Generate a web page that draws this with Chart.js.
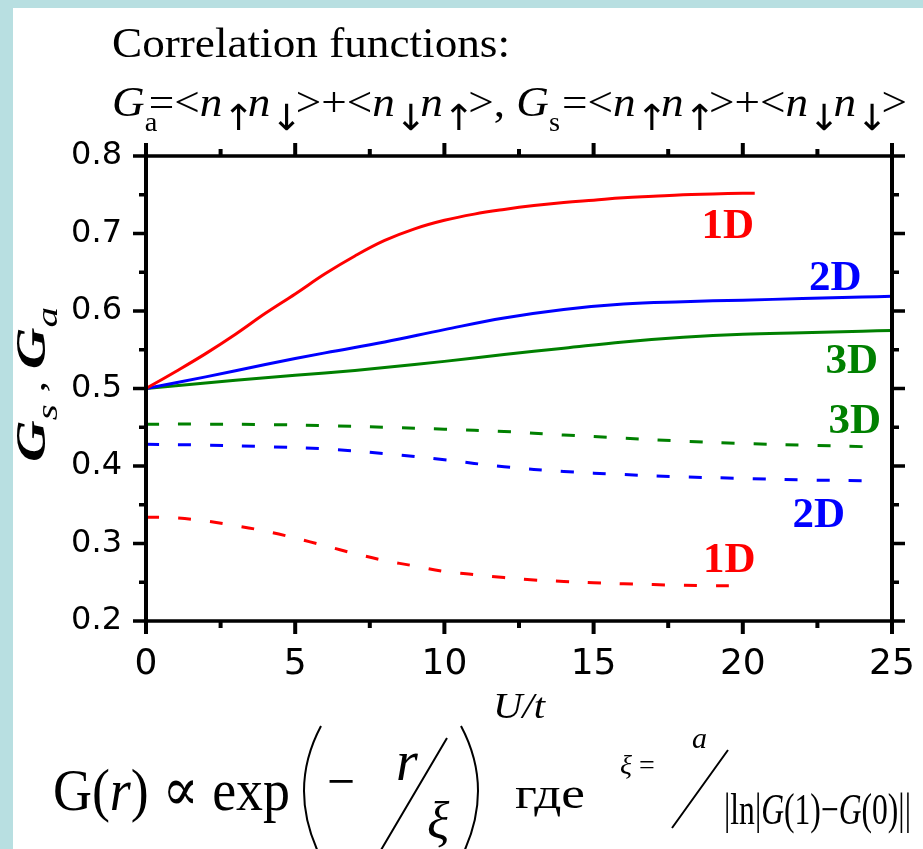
<!DOCTYPE html>
<html>
<head>
<meta charset="utf-8">
<script src="https://cdn.jsdelivr.net/npm/chart.js@4.4.1/dist/chart.umd.min.js"></script>
<style>
  html, body { margin: 0; padding: 0; }
  body { width: 923px; height: 849px; background: #b8dfe1; position: relative; overflow: hidden; }
  #panel { position: absolute; left: 13px; top: 8px; right: 0; bottom: 0; background: #fff; }
  #chart { position: absolute; left: 0; top: 0; }
</style>
</head>
<body>
<div id="panel"></div>
<canvas id="chart" width="923" height="849"></canvas>
<script>
// --- data: U/t grids and correlation functions ---
const U_A1 = [0, 1, 2, 3, 4, 5, 6, 7, 8, 9, 10, 11, 12, 13, 14, 15, 16, 17, 18, 19, 20, 20.4];
const GA_1D = [0.500, 0.522, 0.545, 0.570, 0.597, 0.622, 0.648, 0.671, 0.691, 0.706, 0.717, 0.725,
               0.731, 0.736, 0.740, 0.743, 0.746, 0.748, 0.750, 0.751, 0.752, 0.752];

const U_A23 = [0, 2, 4, 6, 8, 10, 12, 14, 16, 18, 20, 22, 24, 25];
const GA_2D = [0.500, 0.515, 0.531, 0.546, 0.560, 0.576, 0.591, 0.602, 0.609, 0.612, 0.614, 0.616, 0.618, 0.619];
const GA_3D = [0.500, 0.507, 0.514, 0.520, 0.527, 0.535, 0.544, 0.552, 0.560, 0.566, 0.570, 0.572, 0.574, 0.575];

const U_S1 = [0, 1, 2, 3, 4, 5, 6, 7, 8, 9, 10, 11, 12, 13, 14, 15, 16, 17, 18, 19, 20];
const GS_1D = [0.334, 0.333, 0.329, 0.323, 0.316, 0.307, 0.297, 0.287, 0.278, 0.271, 0.264, 0.260,
               0.256, 0.253, 0.251, 0.2495, 0.248, 0.247, 0.246, 0.2455, 0.2455];

const U_S23 = [0, 2, 4, 6, 8, 10, 12, 14, 16, 18, 20, 22, 24, 24.4];
const GS_2D = [0.428, 0.427, 0.425, 0.422, 0.416, 0.408, 0.399, 0.393, 0.389, 0.386, 0.384, 0.382, 0.381, 0.3805];
const GS_3D = [0.454, 0.454, 0.4535, 0.452, 0.450, 0.4475, 0.4445, 0.440, 0.436, 0.432, 0.429, 0.427, 0.425, 0.425];

const X_TICKS = [0, 5, 10, 15, 20, 25];
const Y_TICKS = [0.2, 0.3, 0.4, 0.5, 0.6, 0.7, 0.8];

const RED = '#ff0000', BLUE = '#0000ff', GREEN = '#008000';
const SERIF = '"Liberation Serif", "DejaVu Serif", serif';

// curve labels, anchored in data units (centre x, baseline y)
const curveLabels = [
  { text: '1D', color: RED,   x: 19.5,  y: 0.694 },
  { text: '2D', color: BLUE,  x: 23.1,  y: 0.627 },
  { text: '3D', color: GREEN, x: 23.65, y: 0.520 },
  { text: '3D', color: GREEN, x: 23.75, y: 0.4425 },
  { text: '2D', color: BLUE,  x: 22.55, y: 0.321 },
  { text: '1D', color: RED,   x: 19.55, y: 0.263 }
];

const pts = (xs, ys) => xs.map((x, i) => ({ x, y: ys[i] }));
const DASH = [13, 19];

function series(label, xs, ys, color, dashed) {
  return {
    label,
    data: pts(xs, ys),
    borderColor: color,
    borderWidth: 3,
    borderDash: dashed ? DASH : [],
    pointRadius: 0,
    tension: 0.4,
    fill: false
  };
}

// draw a row of text pieces left to right, optionally squeezed/stretched to a width
function drawRuns(ctx, x, y, parts, width) {
  let total = 0;
  const w = parts.map(p => {
    ctx.font = p.f;
    const v = ctx.measureText(p.t).width + (p.gap || 0);
    total += v;
    return v;
  });
  const sx = width ? width / total : 1;
  ctx.save();
  ctx.translate(x, y);
  ctx.scale(sx, 1);
  let cx = 0;
  parts.forEach((p, i) => {
    ctx.font = p.f;
    ctx.fillText(p.t, cx, p.dy || 0);
    cx += w[i];
  });
  ctx.restore();
}

// box with outward major/minor ticks on all four sides
const frameTicks = {
  id: 'frameTicks',
  afterDatasetsDraw(chart) {
    const { ctx, chartArea: a, scales: { x, y } } = chart;
    const xs = x.ticks.map(t => t.value);
    const ys = y.ticks.map(t => t.value);
    const mids = v => v.slice(1).map((t, i) => (t + v[i]) / 2);
    const MAJOR = 13, MINOR = 7;
    ctx.save();
    ctx.strokeStyle = '#000';
    ctx.lineCap = 'butt';

    // horizontal strokes: top/bottom lines and y ticks
    ctx.lineWidth = 3.5;
    ctx.beginPath();
    ctx.moveTo(a.left - 2, a.top); ctx.lineTo(a.right + 2, a.top);
    ctx.moveTo(a.left - 2, a.bottom); ctx.lineTo(a.right + 2, a.bottom);
    const yTick = (v, len) => {
      const py = y.getPixelForValue(v);
      ctx.moveTo(a.left, py); ctx.lineTo(a.left - len, py);
      ctx.moveTo(a.right, py); ctx.lineTo(a.right + len, py);
    };
    ys.forEach(v => yTick(v, MAJOR));
    mids(ys).forEach(v => yTick(v, MINOR));
    ctx.stroke();

    // vertical strokes: left/right lines and x ticks
    ctx.lineWidth = 4;
    ctx.beginPath();
    ctx.moveTo(a.left, a.top - 2); ctx.lineTo(a.left, a.bottom + 2);
    ctx.moveTo(a.right, a.top - 2); ctx.lineTo(a.right, a.bottom + 2);
    const xTick = (v, len) => {
      const px = x.getPixelForValue(v);
      ctx.moveTo(px, a.bottom); ctx.lineTo(px, a.bottom + len);
      ctx.moveTo(px, a.top); ctx.lineTo(px, a.top - len);
    };
    xs.forEach(v => xTick(v, MAJOR));
    mids(xs).forEach(v => xTick(v, MINOR));
    ctx.stroke();
    ctx.restore();
  }
};

const textLayer = {
  id: 'textLayer',
  afterDraw(chart) {
    const { ctx, scales: { x, y } } = chart;
    ctx.save();
    ctx.textBaseline = 'alphabetic';

    // curve labels
    ctx.font = `bold 43px ${SERIF}`;
    ctx.textAlign = 'center';
    curveLabels.forEach(l => {
      ctx.fillStyle = l.color;
      ctx.fillText(l.text, x.getPixelForValue(l.x), y.getPixelForValue(l.y));
    });
    ctx.textAlign = 'left';
    ctx.fillStyle = '#000';

    const it = s => `italic ${s}px ${SERIF}`;
    const rm = s => `${s}px ${SERIF}`;
    const ARR = '36px "DejaVu Sans"';

    // heading
    drawRuns(ctx, 112, 57, [{ t: 'Correlation functions:', f: rm(43) }], 398);

    const n = { t: 'n', f: it(43) };
    const up = { t: '↑', f: ARR, dy: 14, gap: -6 };
    const dn = { t: '↓', f: ARR, dy: 14, gap: -6 };
    drawRuns(ctx, 112, 116, [
      { t: 'G', f: it(43) }, { t: 'a', f: rm(27), dy: 15, gap: -8 },
      { t: '=<', f: rm(43) }, n, up, n, dn, { t: '>+<', f: rm(43) }, n, dn, n, up,
      { t: '>, ', f: rm(43) },
      { t: 'G', f: it(43) }, { t: 's', f: rm(27), dy: 15, gap: 2 },
      { t: '=<', f: rm(43) }, n, up, n, up, { t: '>+<', f: rm(43) }, n, dn, n, dn,
      { t: '>', f: rm(43) }
    ], 795);

    // y-axis title, rotated
    ctx.save();
    ctx.translate(45, 462);
    ctx.rotate(-Math.PI / 2);
    drawRuns(ctx, 0, 0, [
      { t: 'G', f: `bold italic 42px ${SERIF}` }, { t: 's', f: it(30), dy: 12 },
      { t: ' , ', f: rm(34) },
      { t: 'G', f: `bold italic 42px ${SERIF}` }, { t: 'a', f: it(30), dy: 12 }
    ], 155);
    ctx.restore();

    // x-axis title
    drawRuns(ctx, 493, 718, [{ t: 'U/t', f: it(36) }], 52);

    // G(r) ∝ exp(−r/ξ)
    drawRuns(ctx, 53, 810, [
      { t: 'G(', f: rm(60) }, { t: 'r', f: it(60) }, { t: ') ∝ exp', f: rm(60) }
    ], 237);

    ctx.lineWidth = 2;
    ctx.strokeStyle = '#000';
    ctx.beginPath();
    ctx.moveTo(321, 726); ctx.quadraticCurveTo(287, 790, 321, 858);
    ctx.moveTo(461, 726); ctx.quadraticCurveTo(495, 790, 461, 858);
    ctx.moveTo(381, 850); ctx.lineTo(447, 738);
    ctx.moveTo(672, 828); ctx.lineTo(728, 750);
    ctx.stroke();

    drawRuns(ctx, 327, 800, [{ t: '−', f: rm(56) }], 28);
    drawRuns(ctx, 396, 780, [{ t: 'r', f: it(56) }]);
    drawRuns(ctx, 427, 838, [{ t: 'ξ', f: it(52) }]);

    drawRuns(ctx, 515, 808, [{ t: 'где', f: rm(44) }], 70);

    drawRuns(ctx, 620, 774, [{ t: 'ξ', f: it(28) }, { t: ' = ', f: rm(28) }]);
    drawRuns(ctx, 692, 748, [{ t: 'a', f: it(30) }]);
    drawRuns(ctx, 724, 824, [
      { t: '|ln|', f: rm(44) }, { t: 'G', f: it(44) }, { t: '(1)−', f: rm(44) },
      { t: 'G', f: it(44) }, { t: '(0)||', f: rm(44) }
    ], 187);

    ctx.restore();
  }
};

const ctx = document.getElementById('chart').getContext('2d');
new Chart(ctx, {
  type: 'line',
  data: {
    datasets: [
      series('Ga 1D', U_A1, GA_1D, RED, false),
      series('Ga 2D', U_A23, GA_2D, BLUE, false),
      series('Ga 3D', U_A23, GA_3D, GREEN, false),
      series('Gs 3D', U_S23, GS_3D, GREEN, true),
      series('Gs 2D', U_S23, GS_2D, BLUE, true),
      series('Gs 1D', U_S1, GS_1D, RED, true)
    ]
  },
  options: {
    responsive: false,
    animation: false,
    devicePixelRatio: 1,
    layout: { padding: { left: 0, top: 156, right: 31, bottom: 0 } },
    plugins: { legend: { display: false }, tooltip: { enabled: false } },
    scales: {
      x: {
        type: 'linear',
        min: 0, max: 25,
        afterBuildTicks: s => { s.ticks = X_TICKS.map(v => ({ value: v })); },
        afterFit: s => {
          s.height = 228;
          // the plot box edge is fixed by the layout padding, not the end labels
          s.paddingLeft = 0;
          s.paddingRight = 0;
        },
        grid: { display: false, drawTicks: false },
        border: { display: false },
        ticks: {
          padding: 22,
          color: '#000',
          font: { family: 'DejaVu Sans', size: 36 },
          maxRotation: 0
        }
      },
      y: {
        type: 'linear',
        min: 0.2, max: 0.8,
        afterBuildTicks: s => { s.ticks = Y_TICKS.map(v => ({ value: v })); },
        afterFit: s => { s.width = 146; s.paddingTop = 0; s.paddingBottom = 0; },
        grid: { display: false, drawTicks: false },
        border: { display: false },
        ticks: {
          padding: 24,
          color: '#000',
          font: { family: 'DejaVu Sans', size: 32 },
          callback: v => v.toFixed(1)
        }
      }
    }
  },
  plugins: [frameTicks, textLayer]
});
</script>
</body>
</html>
